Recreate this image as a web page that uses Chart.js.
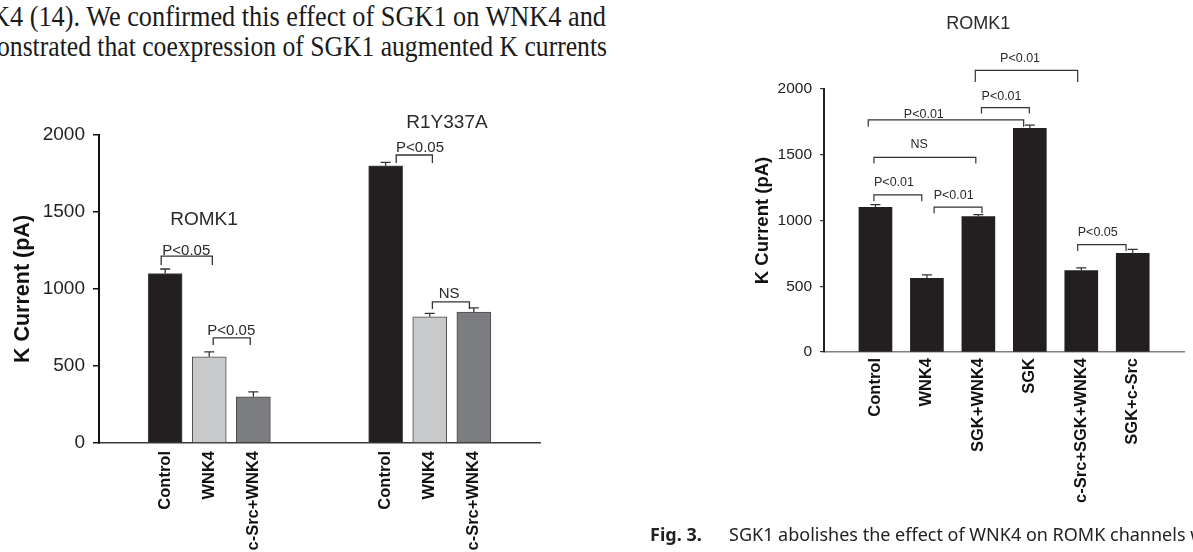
<!DOCTYPE html>
<html>
<head>
<meta charset="utf-8">
<script src="https://cdn.jsdelivr.net/npm/chart.js@4.4.1/dist/chart.umd.min.js"></script>
<style>
  html, body { margin:0; padding:0; background:#fff; }
  body { width:1193px; height:552px; overflow:hidden; position:relative; }
  .serif { position:absolute; font-family:"Liberation Serif","Times New Roman",serif; font-size:29px; color:#1a1a1a; white-space:nowrap; line-height:1; transform-origin:0 0; }
  .cap { position:absolute; font-family:"Noto Sans",sans-serif; font-size:18px; color:#222; white-space:nowrap; line-height:1; }
  .wrap { position:absolute; }
</style>
</head>
<body>
<div id="t1" class="serif" style="left:-9px; top:2px;">K4 (14). We confirmed this effect of SGK1 on WNK4 and</div>
<div id="t2" class="serif" style="left:-3px; top:32px;">onstrated that coexpression of SGK1 augmented K currents</div>

<div class="wrap" style="left:0; top:60px; width:560px; height:492px;"><canvas id="c1" width="560" height="492"></canvas></div>
<div class="wrap" style="left:700px; top:0; width:510px; height:552px;"><canvas id="c2" width="510" height="552"></canvas></div>

<div class="cap" style="left:650px; top:525px;"><b>Fig. 3.</b></div>
<div class="cap" style="left:729px; top:525px;">SGK1 abolishes the effect of WNK4 on ROMK channels w</div>

<script>
// ---------------- DATA ----------------
const yTicks = [0, 500, 1000, 1500, 2000];

// Left panel (ROMK1 and R1Y337A groups)
const leftCategories = ['', 'Control', 'WNK4', 'c-Src+WNK4', '', '', 'Control', 'WNK4', 'c-Src+WNK4', ''];
const leftValues     = [null, 1100, 560, 300, null, null, 1800, 820, 850, null];
const leftErrors     = [null, 30, 32, 32, null, null, 22, 22, 28, null];
const leftGroupTitles = [
  { text: 'ROMK1',   x: 1.88, y: 1448 },
  { text: 'R1Y337A', x: 7.39, y: 2078 }
];
// brackets: from/to category index, level value, tick end value, label position
const leftBrackets = [
  { from: 0.91, to: 2.07, level: 1214, end: 1156, text: 'P<0.05', lx: 1.48, ly: 1221 },
  { from: 2.09, to: 2.93, level: 682,  end: 636,  text: 'P<0.05', lx: 2.50, ly: 701 },
  { from: 6.24, to: 7.06, level: 1870, end: 1818, text: 'P<0.05', lx: 6.78, ly: 1890 },
  { from: 7.06, to: 7.90, level: 916,  end: 870,  text: 'NS',     lx: 7.44, ly: 942 }
];

// Right panel (ROMK1 with SGK)
const rightCategories = ['', 'Control', 'WNK4', 'SGK+WNK4', 'SGK', 'c-Src+SGK+WNK4', 'SGK+c-Src', ''];
const rightValues     = [null, 1100, 560, 1030, 1700, 620, 750, null];
const rightErrors     = [null, 20, 26, 15, 25, 20, 30, null];
const rightTitle = { text: 'ROMK1', x: 3.0, y: 2492 };
const rightBrackets = [
  { from: 2.94, to: 4.93, level: 2142, end: 2053, text: 'P<0.01', lx: 3.81, ly: 2207 },
  { from: 3.06, to: 3.99, level: 1858, end: 1813, text: 'P<0.01', lx: 3.45, ly: 1917 },
  { from: 0.86, to: 3.88, level: 1765, end: 1712, text: 'P<0.01', lx: 1.94, ly: 1780 },
  { from: 0.97, to: 2.95, level: 1480, end: 1434, text: 'NS',     lx: 1.85, ly: 1553 },
  { from: 0.97, to: 1.90, level: 1195, end: 1146, text: 'P<0.01', lx: 1.36, ly: 1265 },
  { from: 2.14, to: 3.07, level: 1101, end: 1055, text: 'P<0.01', lx: 2.52, ly: 1167 },
  { from: 4.93, to: 5.87, level: 816,  end: 768,  text: 'P<0.05', lx: 5.32, ly: 884 }
];

// ---------------- TEXT FITTING ----------------
function fitLine(id, rightEdge) {
  const el = document.getElementById(id);
  const left = parseFloat(el.style.left);
  const w = el.getBoundingClientRect().width;
  const s = (rightEdge - left) / w;
  el.style.transform = 'scaleX(' + s + ')';
}
fitLine('t1', 606);
fitLine('t2', 607);

// ---------------- PLUGINS ----------------
const SANS = '"Liberation Sans", Arial, Helvetica, sans-serif';

const errorBarPlugin = {
  id: 'errorBars',
  afterDatasetsDraw(chart, args, opts) {
    const ctx = chart.ctx;
    const meta = chart.getDatasetMeta(0);
    const ys = chart.scales.y;
    const vals = chart.data.datasets[0].data;
    const errs = opts.errors;
    ctx.save();
    ctx.strokeStyle = opts.color;
    ctx.lineWidth = opts.width;
    meta.data.forEach((bar, i) => {
      if (vals[i] == null || errs[i] == null) return;
      const yb = ys.getPixelForValue(vals[i]);
      const yt = ys.getPixelForValue(vals[i] + errs[i]);
      ctx.beginPath();
      ctx.moveTo(bar.x, yb);
      ctx.lineTo(bar.x, yt);
      ctx.moveTo(bar.x - opts.cap, yt);
      ctx.lineTo(bar.x + opts.cap, yt);
      ctx.stroke();
    });
    ctx.restore();
  }
};

const annotPlugin = {
  id: 'annots',
  afterDraw(chart, args, opts) {
    const ctx = chart.ctx;
    const xs = chart.scales.x, ys = chart.scales.y;
    ctx.save();
    ctx.strokeStyle = opts.lineColor;
    ctx.lineWidth = opts.lineWidth;
    ctx.fillStyle = opts.textColor;
    ctx.textAlign = 'center';
    opts.brackets.forEach(b => {
      const x1 = xs.getPixelForValue(b.from), x2 = xs.getPixelForValue(b.to);
      const yl = ys.getPixelForValue(b.level), ye = ys.getPixelForValue(b.end);
      ctx.beginPath();
      ctx.moveTo(x1, ye); ctx.lineTo(x1, yl); ctx.lineTo(x2, yl); ctx.lineTo(x2, ye);
      ctx.stroke();
      ctx.font = opts.labelFont;
      ctx.textBaseline = 'alphabetic';
      ctx.fillText(b.text, xs.getPixelForValue(b.lx), ys.getPixelForValue(b.ly));
    });
    ctx.font = opts.titleFont;
    ctx.textBaseline = 'middle';
    opts.titles.forEach(t => {
      ctx.fillText(t.text, xs.getPixelForValue(t.x), ys.getPixelForValue(t.y));
    });
    ctx.restore();
  }
};

const plainTick = v => String(v);

// ---------------- LEFT CHART ----------------
const leftColorMap = { 'Control': '#231f20', 'WNK4': '#c8c9cb', 'c-Src+WNK4': '#7c7d81' };

new Chart(document.getElementById('c1'), {
  type: 'bar',
  data: {
    labels: leftCategories,
    datasets: [{
      data: leftValues,
      backgroundColor: leftCategories.map(c => leftColorMap[c] || '#000'),
      borderColor: '#4a4a4a',
      borderWidth: 1,
      barThickness: 34
    }]
  },
  options: {
    responsive: false,
    animation: false,
    layout: { padding: { left: 0, top: 75, right: 20, bottom: 0 } },
    plugins: {
      legend: { display: false },
      tooltip: { enabled: false },
      errorBars: { errors: leftErrors, color: '#333', width: 1.3, cap: 5 },
      annots: {
        brackets: leftBrackets, titles: leftGroupTitles,
        lineColor: '#333', lineWidth: 1.3, textColor: '#2a2a2a',
        labelFont: '15px ' + SANS, titleFont: '19px ' + SANS
      }
    },
    scales: {
      x: {
        type: 'category',
        offset: true,
        grid: { display: false, drawTicks: false },
        border: { display: true, color: '#3a3a3a', width: 1.6 },
        ticks: {
          autoSkip: false, maxRotation: 90, minRotation: 90, padding: 8,
          color: '#111', font: { family: SANS, size: 16.5, weight: 'bold' }
        },
        afterFit: s => { s.height = 109; }
      },
      y: {
        min: 0, max: 2000,
        afterBuildTicks: s => { s.ticks = yTicks.map(v => ({ value: v })); },
        grid: { drawOnChartArea: false, drawTicks: true, tickLength: 6, color: '#111', lineWidth: 1.5 },
        border: { display: true, color: '#111', width: 2 },
        ticks: { padding: 8, color: '#222', font: { family: SANS, size: 19 }, callback: plainTick },
        title: {
          display: true, text: 'K Current (pA)', color: '#111',
          font: { family: SANS, size: 21.5, weight: 'bold' }, padding: { top: 10, bottom: 0 }
        },
        afterFit: s => { s.width = 99; }
      }
    }
  },
  plugins: [errorBarPlugin, annotPlugin]
});

// ---------------- RIGHT CHART ----------------
new Chart(document.getElementById('c2'), {
  type: 'bar',
  data: {
    labels: rightCategories,
    datasets: [{
      data: rightValues,
      backgroundColor: '#231f20',
      borderColor: '#231f20',
      borderWidth: 0,
      barThickness: 33
    }]
  },
  options: {
    responsive: false,
    animation: false,
    layout: { padding: { left: 0, top: 89, right: 11, bottom: 0 } },
    plugins: {
      legend: { display: false },
      tooltip: { enabled: false },
      errorBars: { errors: rightErrors, color: '#333', width: 1.2, cap: 5 },
      annots: {
        brackets: rightBrackets, titles: [rightTitle],
        lineColor: '#333', lineWidth: 1.2, textColor: '#2a2a2a',
        labelFont: '12.5px ' + SANS, titleFont: '18px ' + SANS
      }
    },
    scales: {
      x: {
        type: 'category',
        offset: false,
        grid: { display: false, drawTicks: false },
        border: { display: true, color: '#808080', width: 1.6 },
        ticks: {
          autoSkip: false, maxRotation: 90, minRotation: 90, padding: 6,
          color: '#111', font: { family: SANS, size: 16.5, weight: 'bold' }
        },
        afterFit: s => { s.height = 200; }
      },
      y: {
        min: 0, max: 2000,
        afterBuildTicks: s => { s.ticks = yTicks.map(v => ({ value: v })); },
        grid: { drawOnChartArea: false, drawTicks: true, tickLength: 4, color: '#333', lineWidth: 1.2 },
        border: { display: true, color: '#222', width: 2 },
        ticks: { padding: 8, color: '#222', font: { family: SANS, size: 15.5 }, callback: plainTick },
        title: {
          display: true, text: 'K Current (pA)', color: '#111',
          font: { family: SANS, size: 18.5, weight: 'bold' }, padding: { top: 52, bottom: 0 }
        },
        afterFit: s => { s.width = 124; }
      }
    }
  },
  plugins: [errorBarPlugin, annotPlugin]
});
</script>
</body>
</html>
